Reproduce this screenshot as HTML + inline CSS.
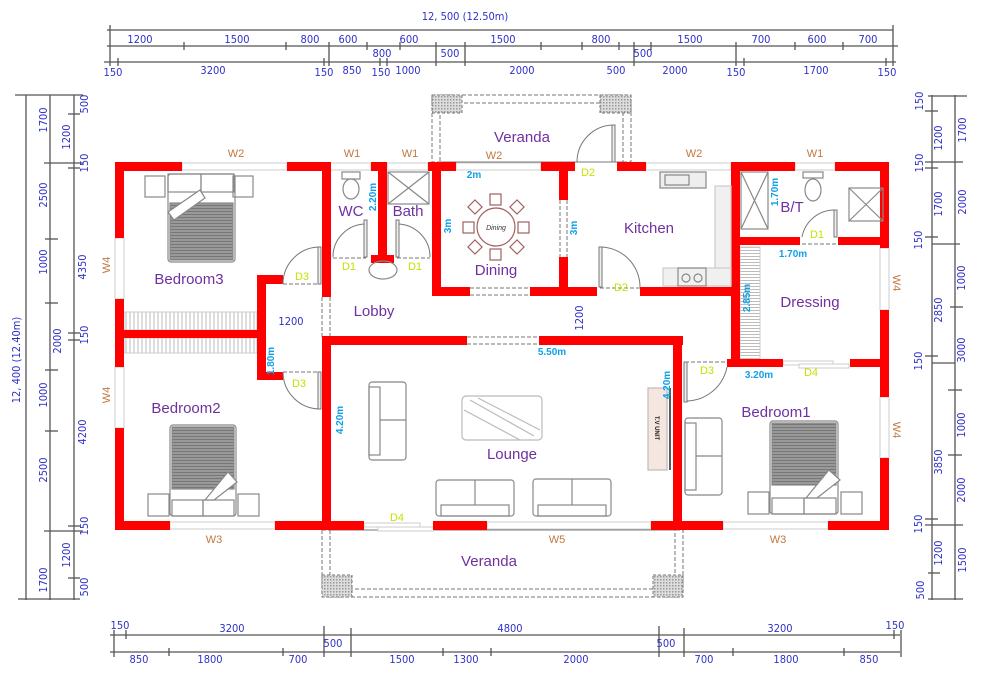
<!DOCTYPE html>
<html><head><meta charset="utf-8"><style>
body{margin:0;background:#fff}
svg{display:block}
.r{fill:#f00}
.w{fill:#fff;stroke:#ccc;stroke-width:1}
.dim{font-family:"DejaVu Sans Condensed","Liberation Sans",sans-serif;font-size:11px;fill:#3030c8}
.rm{font-family:"Liberation Sans",sans-serif;font-size:15px;fill:#7030a0}
.wl{font-family:"Liberation Sans",sans-serif;font-size:11px;fill:#c07840}
.dl{font-family:"Liberation Sans",sans-serif;font-size:11px;fill:#c8e000}
.bl{font-family:"Liberation Sans",sans-serif;font-size:10px;fill:#10a0e8;font-weight:bold}
.ln{stroke:#555;stroke-width:1.3;fill:none}
.f{fill:none;stroke:#888;stroke-width:1.2}
.dash{fill:none;stroke:#777;stroke-width:1;stroke-dasharray:4 2}
.door{fill:none;stroke:#777;stroke-width:1}
</style></head><body>
<svg width="999" height="682" viewBox="0 0 999 682" xmlns="http://www.w3.org/2000/svg">
<defs>
<pattern id="hv" width="4" height="4" patternUnits="userSpaceOnUse"><line x1="2" y1="0" x2="2" y2="4" stroke="#bbb" stroke-width="1"/></pattern>
<pattern id="hh" width="4" height="3" patternUnits="userSpaceOnUse"><line x1="0" y1="1.5" x2="4" y2="1.5" stroke="#bbb" stroke-width="1"/></pattern>
<pattern id="bed" width="4" height="3" patternUnits="userSpaceOnUse"><rect width="4" height="3" fill="#999"/><line x1="0" y1="1.5" x2="4" y2="1.5" stroke="#777" stroke-width="1"/></pattern>
<pattern id="xh" width="3" height="3" patternUnits="userSpaceOnUse"><rect width="3" height="3" fill="#ddd"/><rect width="1.5" height="1.5" fill="#999"/></pattern>
</defs>

<!-- TOP DIMENSIONS -->
<text x="465" y="20" class="dim" text-anchor="middle" font-size="12">12, 500  (12.50m)</text>
<line class="ln" x1="107" y1="30" x2="893" y2="30"/>
<line class="ln" x1="107" y1="46" x2="898" y2="46"/>
<line class="ln" x1="104" y1="62" x2="896" y2="62"/>
<line class="ln" x1="110" y1="25" x2="110" y2="66"/><line class="ln" x1="893" y1="25" x2="893" y2="66"/>
<g class="ln">
<line x1="184" y1="42" x2="184" y2="50"/><line x1="286" y1="42" x2="286" y2="50"/><line x1="329" y1="42" x2="329" y2="66"/><line x1="367" y1="42" x2="367" y2="50"/><line x1="400" y1="42" x2="400" y2="50"/><line x1="436" y1="42" x2="436" y2="66"/><line x1="465" y1="42" x2="465" y2="66"/><line x1="541" y1="42" x2="541" y2="50"/><line x1="582" y1="42" x2="582" y2="50"/><line x1="619" y1="42" x2="619" y2="50"/><line x1="634" y1="42" x2="634" y2="66"/><line x1="651" y1="42" x2="651" y2="50"/><line x1="736" y1="42" x2="736" y2="66"/><line x1="795" y1="42" x2="795" y2="50"/><line x1="843" y1="42" x2="843" y2="50"/>
<line x1="118" y1="58" x2="118" y2="66"/><line x1="324" y1="58" x2="324" y2="66"/><line x1="380" y1="58" x2="380" y2="66"/><line x1="387" y1="58" x2="387" y2="66"/><line x1="744" y1="58" x2="744" y2="66"/><line x1="886" y1="58" x2="886" y2="66"/>
</g>
<g class="dim" text-anchor="middle">
<text x="140" y="43">1200</text><text x="237" y="43">1500</text><text x="310" y="43">800</text><text x="348" y="43">600</text><text x="409" y="43">600</text><text x="503" y="43">1500</text><text x="601" y="43">800</text><text x="690" y="43">1500</text><text x="761" y="43">700</text><text x="817" y="43">600</text><text x="868" y="43">700</text>
<text x="382" y="57">800</text><text x="450" y="57">500</text><text x="643" y="57">500</text>
<text x="113" y="76">150</text><text x="213" y="74">3200</text><text x="324" y="76">150</text><text x="352" y="74">850</text><text x="381" y="76">150</text><text x="408" y="74">1000</text><text x="522" y="74">2000</text><text x="616" y="74">500</text><text x="675" y="74">2000</text><text x="736" y="76">150</text><text x="816" y="74">1700</text><text x="887" y="76">150</text>
</g>

<!-- LEFT DIMENSIONS -->
<g class="ln">
<line x1="26" y1="95" x2="26" y2="600"/><line x1="50" y1="95" x2="50" y2="600"/><line x1="74" y1="95" x2="74" y2="600"/>
<line x1="15" y1="95" x2="83" y2="95"/><line x1="18" y1="599" x2="80" y2="599"/>
<line x1="44" y1="163" x2="83" y2="163"/><line x1="44" y1="531" x2="83" y2="531"/>
<line x1="45" y1="239" x2="58" y2="239"/><line x1="45" y1="303" x2="58" y2="303"/><line x1="45" y1="370" x2="58" y2="370"/><line x1="45" y1="431" x2="58" y2="431"/>
<line x1="68" y1="114" x2="80" y2="114"/><line x1="68" y1="168" x2="80" y2="168"/><line x1="68" y1="333" x2="80" y2="333"/><line x1="68" y1="340" x2="80" y2="340"/><line x1="68" y1="526" x2="80" y2="526"/><line x1="68" y1="578" x2="80" y2="578"/>
</g>
<g class="dim" text-anchor="middle">
<text transform="translate(20,360) rotate(-90)">12, 400  (12.40m)</text>
<text transform="translate(47,120) rotate(-90)">1700</text><text transform="translate(47,195) rotate(-90)">2500</text><text transform="translate(47,262) rotate(-90)">1000</text><text transform="translate(47,395) rotate(-90)">1000</text><text transform="translate(47,470) rotate(-90)">2500</text><text transform="translate(47,580) rotate(-90)">1700</text>
<text transform="translate(61,341) rotate(-90)">2000</text>
<text transform="translate(70,137) rotate(-90)">1200</text><text transform="translate(70,555) rotate(-90)">1200</text>
<text transform="translate(88,104) rotate(-90)">500</text><text transform="translate(88,163) rotate(-90)">150</text><text transform="translate(86,267) rotate(-90)">4350</text><text transform="translate(88,335) rotate(-90)">150</text><text transform="translate(86,432) rotate(-90)">4200</text><text transform="translate(88,526) rotate(-90)">150</text><text transform="translate(88,587) rotate(-90)">500</text>
</g>

<!-- RIGHT DIMENSIONS -->
<g class="ln">
<line x1="932" y1="95" x2="932" y2="600"/><line x1="955" y1="95" x2="955" y2="600"/>
<line x1="928" y1="96" x2="967" y2="96"/><line x1="928" y1="599" x2="963" y2="599"/>
<line x1="925" y1="111" x2="938" y2="111"/><line x1="925" y1="162" x2="963" y2="162"/><line x1="925" y1="168" x2="938" y2="168"/>
<line x1="925" y1="237" x2="938" y2="237"/><line x1="932" y1="244" x2="960" y2="244"/><line x1="950" y1="307" x2="963" y2="307"/>
<line x1="925" y1="356" x2="938" y2="356"/><line x1="932" y1="363" x2="955" y2="363"/><line x1="948" y1="390" x2="962" y2="390"/><line x1="948" y1="455" x2="962" y2="455"/>
<line x1="925" y1="519" x2="938" y2="519"/><line x1="925" y1="525" x2="963" y2="525"/><line x1="928" y1="573" x2="940" y2="573"/>
</g>
<g class="dim" text-anchor="middle">
<text transform="translate(923,101) rotate(-90)">150</text><text transform="translate(923,163) rotate(-90)">150</text><text transform="translate(922,240) rotate(-90)">150</text><text transform="translate(922,361) rotate(-90)">150</text><text transform="translate(922,524) rotate(-90)">150</text><text transform="translate(924,590) rotate(-90)">500</text>
<text transform="translate(942,138) rotate(-90)">1200</text><text transform="translate(942,204) rotate(-90)">1700</text><text transform="translate(942,310) rotate(-90)">2850</text><text transform="translate(942,462) rotate(-90)">3850</text><text transform="translate(942,553) rotate(-90)">1200</text>
<text transform="translate(966,130) rotate(-90)">1700</text><text transform="translate(966,202) rotate(-90)">2000</text><text transform="translate(965,278) rotate(-90)">1000</text><text transform="translate(965,350) rotate(-90)">3000</text><text transform="translate(965,425) rotate(-90)">1000</text><text transform="translate(965,490) rotate(-90)">2000</text><text transform="translate(966,560) rotate(-90)">1500</text>
</g>

<!-- BOTTOM DIMENSIONS -->
<g class="ln">
<line x1="110" y1="635" x2="900" y2="635"/><line x1="110" y1="652" x2="900" y2="652"/>
<line x1="114" y1="630" x2="114" y2="657"/><line x1="126" y1="630" x2="126" y2="639"/><line x1="324" y1="626" x2="324" y2="657"/><line x1="351" y1="628" x2="351" y2="657"/><line x1="659" y1="626" x2="659" y2="657"/><line x1="684" y1="628" x2="684" y2="657"/><line x1="894" y1="630" x2="894" y2="639"/><line x1="901" y1="630" x2="901" y2="657"/>
<line x1="169" y1="648" x2="169" y2="656"/><line x1="283" y1="648" x2="283" y2="656"/><line x1="443" y1="648" x2="443" y2="656"/><line x1="491" y1="648" x2="491" y2="656"/><line x1="733" y1="648" x2="733" y2="656"/><line x1="844" y1="648" x2="844" y2="656"/>
</g>
<g class="dim" text-anchor="middle">
<text x="120" y="629">150</text><text x="232" y="632">3200</text><text x="510" y="632">4800</text><text x="780" y="632">3200</text><text x="895" y="629">150</text>
<text x="333" y="647">500</text><text x="666" y="647">500</text>
<text x="139" y="663">850</text><text x="210" y="663">1800</text><text x="298" y="663">700</text><text x="402" y="663">1500</text><text x="466" y="663">1300</text><text x="576" y="663">2000</text><text x="704" y="663">700</text><text x="786" y="663">1800</text><text x="869" y="663">850</text>
</g>

<!-- VERANDAS -->
<rect class="dash" x="432" y="95" width="199" height="67"/>
<rect class="dash" x="440" y="103" width="183" height="59"/>
<rect x="432" y="95" width="30" height="18" fill="url(#xh)" stroke="#777" stroke-dasharray="3 2"/>
<rect x="600" y="95" width="31" height="18" fill="url(#xh)" stroke="#777" stroke-dasharray="3 2"/>
<rect class="dash" x="322" y="530" width="361" height="67"/>
<rect class="dash" x="330" y="530" width="345" height="59"/>
<rect x="322" y="575" width="30" height="22" fill="url(#xh)" stroke="#777" stroke-dasharray="3 2"/>
<rect x="653" y="575" width="30" height="22" fill="url(#xh)" stroke="#777" stroke-dasharray="3 2"/>

<!-- hatched wardrobes -->
<rect x="124" y="312" width="133" height="18" fill="url(#hv)" stroke="#ccc"/>
<rect x="124" y="338" width="133" height="15" fill="url(#hv)" stroke="#ccc"/>
<rect x="740" y="247" width="20" height="112" fill="url(#hh)" stroke="#ccc"/>

<!-- dashed openings -->
<g class="dash">
<line x1="322" y1="297" x2="322" y2="337"/><line x1="330" y1="297" x2="330" y2="337"/>
<line x1="467" y1="337" x2="540" y2="337"/><line x1="467" y1="344" x2="540" y2="344"/>
<line x1="470" y1="288" x2="530" y2="288"/><line x1="470" y1="295" x2="530" y2="295"/>
<line x1="560" y1="200" x2="560" y2="257"/><line x1="567" y1="200" x2="567" y2="257"/>
</g>

<!-- WINDOWS -->
<rect class="w" x="182" y="163" width="105" height="7"/>
<rect class="w" x="330" y="163" width="41" height="7"/>
<rect class="w" x="387" y="163" width="41" height="7"/>
<rect class="w" x="456" y="163" width="85" height="7"/>
<rect class="w" x="646" y="163" width="85" height="7"/>
<rect class="w" x="795" y="163" width="40" height="7"/>
<rect class="w" x="115" y="238" width="9" height="61"/>
<rect class="w" x="115" y="367" width="9" height="61"/>
<rect class="w" x="880" y="248" width="9" height="62"/>
<rect class="w" x="880" y="397" width="9" height="61"/>
<rect class="w" x="170" y="522" width="105" height="7"/>
<rect class="w" x="487" y="522" width="164" height="7"/>
<rect class="w" x="723" y="522" width="105" height="7"/>
<rect class="w" x="364" y="523" width="56" height="4"/><rect class="w" x="378" y="527" width="56" height="4"/>
<rect class="w" x="783" y="361" width="50" height="4"/><rect class="w" x="799" y="364" width="50" height="4"/>

<!-- WALLS -->
<g class="r">
<rect x="115" y="162" width="67" height="9"/><rect x="287" y="162" width="44" height="9"/><rect x="371" y="162" width="16" height="9"/><rect x="428" y="162" width="28" height="9"/><rect x="541" y="162" width="34" height="9"/><rect x="617" y="162" width="29" height="9"/><rect x="731" y="162" width="64" height="9"/><rect x="835" y="162" width="54" height="9"/>
<rect x="115" y="162" width="9" height="76"/><rect x="115" y="299" width="9" height="68"/><rect x="115" y="428" width="9" height="102"/>
<rect x="880" y="162" width="9" height="86"/><rect x="880" y="310" width="9" height="87"/><rect x="880" y="458" width="9" height="72"/>
<rect x="115" y="521" width="55" height="9"/><rect x="275" y="521" width="89" height="9"/><rect x="433" y="521" width="54" height="9"/><rect x="651" y="521" width="72" height="9"/><rect x="828" y="521" width="61" height="9"/>
<rect x="115" y="330" width="150" height="8"/>
<rect x="257" y="275" width="9" height="105"/><rect x="257" y="275" width="26" height="9"/><rect x="257" y="372" width="26" height="8"/>
<rect x="322" y="162" width="9" height="135"/>
<rect x="322" y="336" width="9" height="194"/>
<rect x="322" y="336" width="145" height="9"/><rect x="539" y="336" width="144" height="9"/>
<rect x="673" y="336" width="9" height="194"/>
<rect x="378" y="162" width="9" height="100"/><rect x="371" y="255" width="23" height="8"/>
<rect x="432" y="162" width="9" height="134"/>
<rect x="432" y="287" width="38" height="9"/><rect x="530" y="287" width="67" height="9"/>
<rect x="559" y="162" width="9" height="38"/><rect x="559" y="257" width="9" height="39"/>
<rect x="640" y="287" width="100" height="9"/>
<rect x="731" y="162" width="9" height="205"/>
<rect x="731" y="359" width="52" height="8"/><rect x="850" y="359" width="39" height="8"/>
<rect x="740" y="237" width="60" height="8"/><rect x="838" y="237" width="51" height="8"/>
<rect x="727" y="359" width="10" height="8"/>
</g>

<!-- DOORS -->
<g class="door">
<path d="M283 284 A37 37 0 0 1 320 247 L320 284"/><rect x="318" y="247" width="3" height="37" fill="#eee"/>
<path d="M283 372 A37 37 0 0 0 320 409 L320 372"/><rect x="318" y="372" width="3" height="37" fill="#eee"/>
<path d="M333 257 A33 33 0 0 1 366 224 L366 257"/><rect x="364" y="220" width="3" height="37" fill="#eee"/>
<path d="M430 257 A33 33 0 0 0 397 224 L397 257"/><rect x="396" y="220" width="3" height="37" fill="#eee"/>
<path d="M577 162 A37 37 0 0 1 614 125 L614 162"/><rect x="612" y="125" width="3" height="37" fill="#eee"/>
<path d="M640 287 A40 40 0 0 0 600 247 L600 287"/><rect x="599" y="247" width="3" height="40" fill="#eee"/>
<path d="M802 237 A33 33 0 0 1 835 210 L835 237"/><rect x="834" y="210" width="3" height="27" fill="#eee"/>
<path d="M727 367 A42 42 0 0 1 685 401 L685 367"/><rect x="684" y="362" width="3" height="40" fill="#eee"/>
</g>
<g class="dash" stroke-dasharray="2 2">
<line x1="283" y1="284" x2="320" y2="284"/><line x1="283" y1="372" x2="320" y2="372"/>
<line x1="333" y1="258" x2="366" y2="258"/><line x1="397" y1="258" x2="430" y2="258"/>
<line x1="577" y1="162" x2="614" y2="162"/><line x1="600" y1="288" x2="640" y2="288"/>
<line x1="802" y1="244" x2="837" y2="244"/><line x1="685" y1="362" x2="727" y2="362"/>
</g>

<!-- FURNITURE -->
<g class="f">
<!-- bedroom3 -->
<rect x="145" y="176" width="20" height="21"/><rect x="233" y="176" width="20" height="21"/>
<rect x="168" y="174" width="67" height="88" rx="3"/><rect x="168" y="174" width="33" height="18"/><rect x="201" y="174" width="33" height="18"/>
<rect x="170" y="203" width="63" height="57" fill="url(#bed)"/>
<path d="M168 212 L200 190 L205 198 L174 220 Z" fill="#fff"/>
<!-- bedroom2 -->
<rect x="148" y="494" width="21" height="22"/><rect x="238" y="494" width="21" height="22"/>
<rect x="170" y="425" width="66" height="91" rx="3"/><rect x="172" y="427" width="62" height="62" fill="url(#bed)"/>
<rect x="172" y="500" width="31" height="16"/><rect x="203" y="500" width="31" height="16"/>
<path d="M205 500 L228 472 L237 482 L214 500 Z" fill="#fff"/>
<!-- bedroom1 -->
<rect x="748" y="492" width="21" height="22"/><rect x="841" y="492" width="21" height="22"/>
<rect x="770" y="421" width="68" height="93" rx="3"/><rect x="772" y="423" width="64" height="62" fill="url(#bed)"/>
<rect x="772" y="498" width="32" height="16"/><rect x="804" y="498" width="32" height="16"/>
<path d="M806 498 L829 470 L840 480 L817 498 Z" fill="#fff"/>
<!-- sofas -->
<rect x="369" y="382" width="37" height="78" rx="3"/><rect x="369" y="387" width="11" height="68"/><line x1="380" y1="420" x2="406" y2="420"/>
<rect x="436" y="480" width="78" height="36" rx="3"/><rect x="441" y="505" width="68" height="11"/><line x1="475" y1="480" x2="475" y2="505"/>
<rect x="533" y="479" width="78" height="37" rx="3"/><rect x="538" y="505" width="68" height="11"/><line x1="572" y1="479" x2="572" y2="505"/>
<rect x="685" y="418" width="37" height="77" rx="3"/><rect x="685" y="423" width="11" height="67"/><line x1="696" y1="456" x2="722" y2="456"/>
<!-- coffee table -->
<rect x="462" y="396" width="80" height="44" rx="4" stroke="#bbb"/><path d="M470 400 L534 436 M478 398 L540 430 M464 410 L520 440" stroke="#bbb"/>
<!-- TV -->
<rect x="648" y="388" width="19" height="82" fill="#f6e6e0" stroke="#bbb"/><line x1="670" y1="388" x2="670" y2="470" stroke="#222" stroke-width="1.5"/>
<!-- kitchen -->
<rect x="660" y="172" width="46" height="16" fill="#eee"/><rect x="665" y="175" width="24" height="10"/>
<rect x="715" y="186" width="16" height="100" fill="#f0f0f0" stroke="#ccc"/><rect x="663" y="268" width="68" height="18" fill="#f0f0f0" stroke="#ccc"/>
<rect x="678" y="268" width="28" height="18"/><circle cx="686" cy="278" r="4"/><circle cx="698" cy="278" r="4"/>
<!-- WC / bath -->
<rect x="342" y="172" width="18" height="7"/><ellipse cx="351" cy="189" rx="8" ry="10"/>
<rect x="388" y="172" width="41" height="32"/><path d="M388 172 L429 204 M429 172 L388 204"/>
<ellipse cx="383" cy="270" rx="14" ry="9"/>
<!-- B/T -->
<rect x="741" y="172" width="27" height="57"/><path d="M741 172 L768 229 M768 172 L741 229"/>
<rect x="803" y="172" width="20" height="6"/><ellipse cx="813" cy="190" rx="8" ry="11"/>
<rect x="849" y="188" width="34" height="33"/><path d="M849 188 L883 221 M883 188 L849 221"/>
</g>
<!-- dining -->
<g fill="none" stroke="#a06060" stroke-width="1.2">
<circle cx="496" cy="227" r="19"/>
<rect x="490" y="194" width="11" height="11"/><rect x="490" y="249" width="11" height="11"/><rect x="463" y="222" width="11" height="11"/><rect x="518" y="222" width="11" height="11"/>
<rect x="470" y="202" width="10" height="10" transform="rotate(45 475 207)"/><rect x="512" y="202" width="10" height="10" transform="rotate(45 517 207)"/><rect x="470" y="242" width="10" height="10" transform="rotate(45 475 247)"/><rect x="512" y="242" width="10" height="10" transform="rotate(45 517 247)"/>
</g>
<text x="496" y="230" font-family="Liberation Sans,sans-serif" font-size="7" font-style="italic" text-anchor="middle" fill="#333">Dining</text>
<text transform="translate(655,428) rotate(90)" font-family="Liberation Sans,sans-serif" font-size="6" font-weight="bold" text-anchor="middle" fill="#222">T.V UNIT</text>

<!-- ROOM LABELS -->
<g class="rm" text-anchor="middle">
<text x="522" y="142">Veranda</text><text x="351" y="216">WC</text><text x="408" y="216">Bath</text><text x="496" y="275">Dining</text><text x="649" y="233">Kitchen</text><text x="792" y="212">B/T</text><text x="189" y="284">Bedroom3</text><text x="374" y="316">Lobby</text><text x="810" y="307">Dressing</text><text x="186" y="413">Bedroom2</text><text x="512" y="459">Lounge</text><text x="776" y="417">Bedroom1</text><text x="489" y="566">Veranda</text>
</g>
<g class="wl" text-anchor="middle">
<text x="236" y="157">W2</text><text x="352" y="157">W1</text><text x="410" y="157">W1</text><text x="494" y="159">W2</text><text x="694" y="157">W2</text><text x="815" y="157">W1</text>
<text x="214" y="543">W3</text><text x="557" y="543">W5</text><text x="778" y="543">W3</text>
<text transform="translate(110,265) rotate(-90)">W4</text><text transform="translate(110,395) rotate(-90)">W4</text>
<text transform="translate(893,283) rotate(90)">W4</text><text transform="translate(893,430) rotate(90)">W4</text>
</g>
<g class="dl" text-anchor="middle">
<text x="302" y="280">D3</text><text x="349" y="270">D1</text><text x="415" y="270">D1</text><text x="588" y="176">D2</text><text x="621" y="291">D2</text><text x="817" y="238">D1</text><text x="299" y="387">D3</text><text x="397" y="521">D4</text><text x="707" y="374">D3</text><text x="811" y="376">D4</text>
</g>
<g class="bl" text-anchor="middle">
<text x="474" y="178">2m</text><text transform="translate(376,197) rotate(-90)">2.20m</text><text transform="translate(451,226) rotate(-90)">3m</text><text transform="translate(577,228) rotate(-90)">3m</text><text transform="translate(778,192) rotate(-90)">1.70m</text><text x="793" y="257">1.70m</text><text transform="translate(750,298) rotate(-90)">2.85m</text><text transform="translate(274,361) rotate(-90)">1.80m</text><text x="552" y="355">5.50m</text><text transform="translate(343,420) rotate(-90)">4.20m</text><text transform="translate(670,385) rotate(-90)">4.20m</text><text x="759" y="378">3.20m</text>
</g>
<g class="dim" text-anchor="middle"><text x="291" y="325">1200</text><text transform="translate(583,318) rotate(-90)">1200</text></g>
</svg>
</body></html>
